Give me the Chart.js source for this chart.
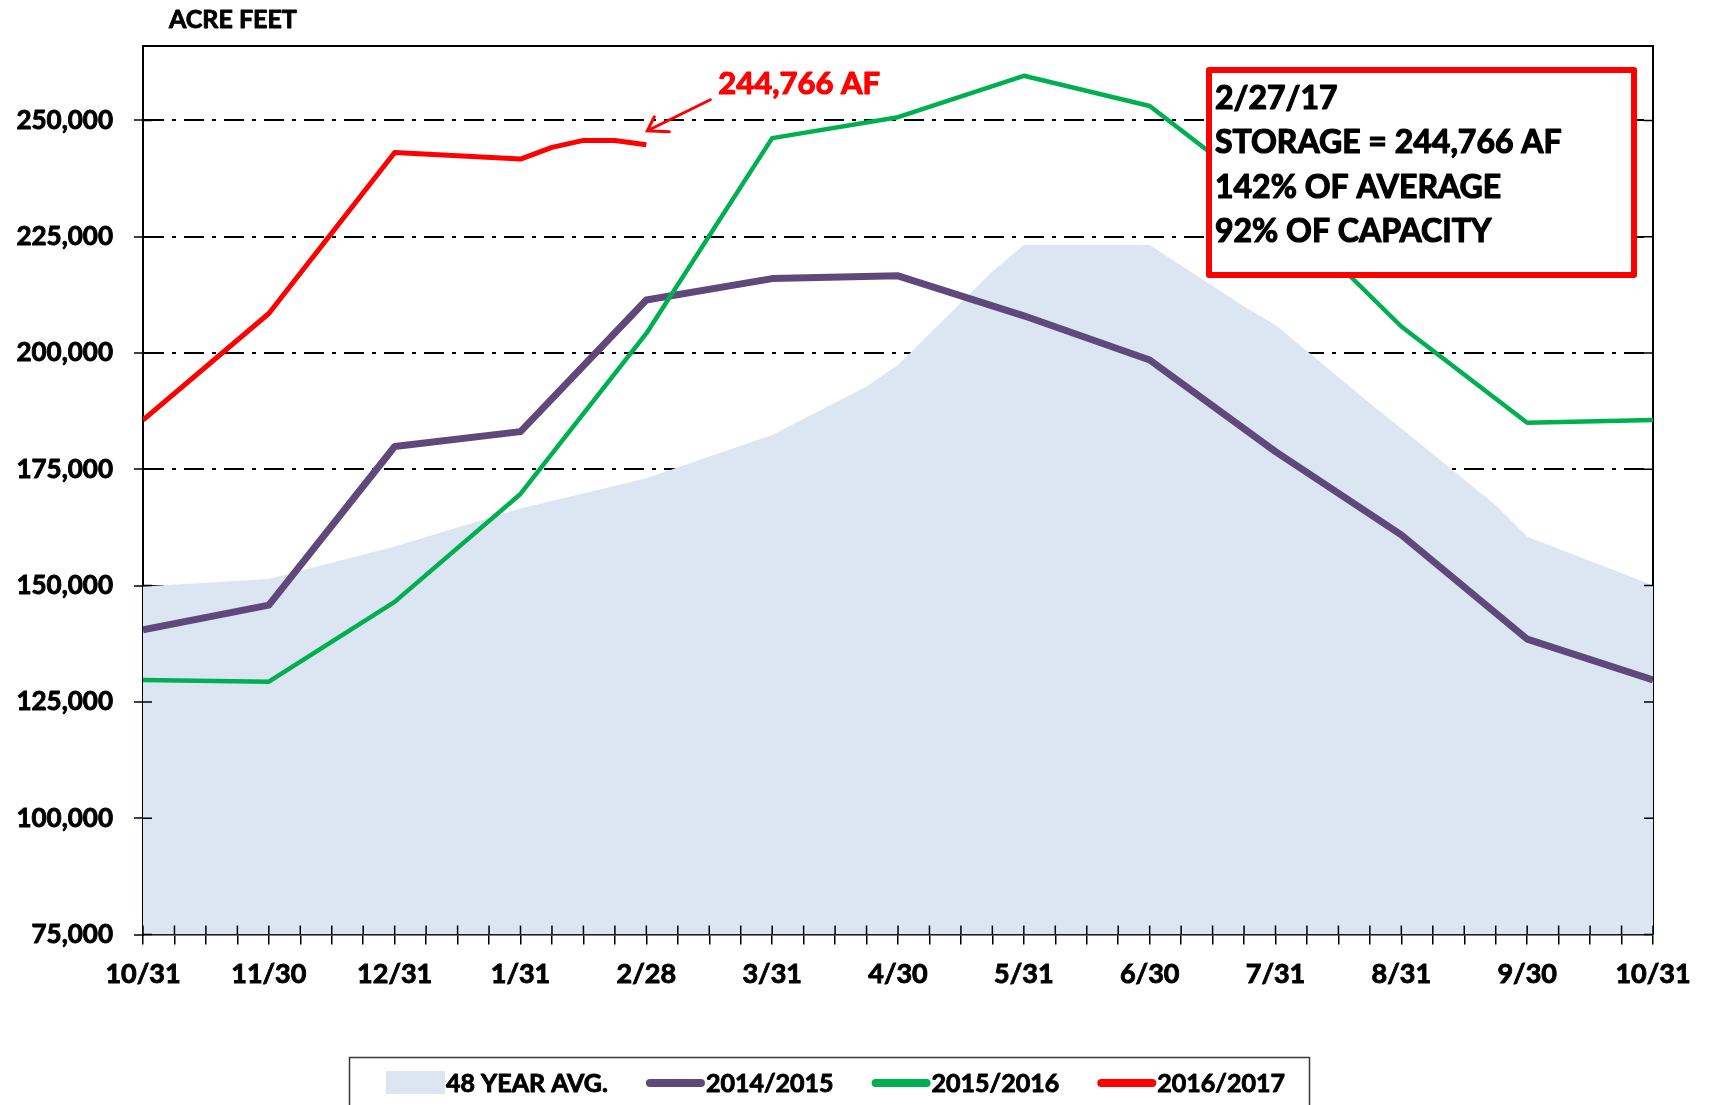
<!DOCTYPE html>
<html lang="en">
<head>
    <meta charset="UTF-8">
    <title>Reservoir Storage - Acre Feet</title>
    <style>
        body, html {
            margin: 0;
            padding: 0;
            background: #fff;
        }
        .chart-container {
            width: 1711px;
            height: 1105px;
            position: relative;
        }
    </style>
    <script src="https://cdn.jsdelivr.net/npm/chart.js"></script>
</head>
<body>
    <div class="chart-container">
        <canvas id="storageChart"></canvas>
    </div>
    <script>
        // month-end labels, x position = months since 10/31
        const monthLabels = ['10/31', '11/30', '12/31', '1/31', '2/28', '3/31', '4/30', '5/31', '6/30', '7/31', '8/31', '9/30', '10/31'];
        const yTicks = [75000, 100000, 125000, 150000, 175000, 200000, 225000, 250000];

        // 48 year average (points where the outline bends)
        const avgMonths = [0, 1, 2, 3, 4, 5, 5.75, 6, 6.75, 7, 8, 8.75, 9, 9.75, 10, 10.75, 11, 12];
        const avgValues = [149800, 151400, 158400, 166600, 173100, 182400, 192800, 197400, 217500, 223200, 223200, 210000, 206000, 189200, 183800, 167300, 160500, 150100];

        const values1415 = [140500, 145800, 179900, 183100, 211400, 216000, 216600, 208000, 198500, 178800, 160900, 138500, 129700];
        const values1516 = [129700, 129350, 146500, 169700, 204200, 246200, 250700, 259600, 253100, 232300, 205700, 185000, 185600];

        const months1617 = [0, 1, 2, 3, 3.25, 3.5, 3.75, 4];
        const values1617 = [185600, 208500, 243100, 241700, 244200, 245700, 245700, 244766];

        const callout = '244,766 AF';
        const boxLines = ['2/27/17', 'STORAGE = 244,766 AF', '142% OF AVERAGE', '92% OF CAPACITY'];

        const FONT = 'Lato';
        const toPoints = (xs, ys) => ys.map((y, i) => ({ x: xs[i], y: y }));
        const monthIdx = monthLabels.map((_, i) => i);

        // bold text with a thin outline, closer to the heavy original
        function heavyText(ctx, s, x, y, color, w) {
            ctx.fillStyle = color;
            ctx.strokeStyle = color;
            ctx.lineWidth = w;
            ctx.lineJoin = 'round';
            ctx.fillText(s, x, y);
            ctx.strokeText(s, x, y);
        }

        const extras = {
            id: 'extras',
            beforeDatasetsDraw(chart) {
                const { ctx, chartArea: a } = chart;
                ctx.save();
                ctx.strokeStyle = '#000';
                ctx.lineWidth = 2;
                ctx.beginPath();
                ctx.moveTo(a.left, a.top);
                ctx.lineTo(a.right, a.top);
                ctx.lineTo(a.right, a.bottom);
                ctx.stroke();
                ctx.restore();
            },
            afterDatasetsDraw(chart) {
                const { ctx, chartArea: a, scales } = chart;
                ctx.save();
                // inner halves of the tick marks
                ctx.strokeStyle = '#000';
                ctx.lineWidth = 1.5;
                ctx.beginPath();
                scales.x.ticks.forEach(t => {
                    const px = scales.x.getPixelForValue(t.value);
                    ctx.moveTo(px, a.bottom);
                    ctx.lineTo(px, a.bottom - 9);
                });
                scales.y.ticks.forEach(t => {
                    const py = scales.y.getPixelForValue(t.value);
                    ctx.moveTo(a.left, py);
                    ctx.lineTo(a.left + 9, py);
                    ctx.moveTo(a.right, py);
                    ctx.lineTo(a.right - 9, py);
                });
                ctx.stroke();

                // arrow + label pointing at latest 2016/2017 value
                const pts = chart.getDatasetMeta(3).data;
                const last = pts[pts.length - 1];
                const tipX = last.x + 1, tipY = last.y - 14;
                ctx.strokeStyle = '#FF0000';
                ctx.lineWidth = 3;
                ctx.lineCap = 'round';
                ctx.beginPath();
                ctx.moveTo(tipX + 63, tipY - 31);
                ctx.lineTo(tipX, tipY);
                ctx.moveTo(tipX + 7, tipY - 14);
                ctx.lineTo(tipX, tipY);
                ctx.lineTo(tipX + 22, tipY + 1);
                ctx.stroke();
                ctx.font = 'bold 31px ' + FONT;
                ctx.textBaseline = 'alphabetic';
                heavyText(ctx, callout, tipX + 71, tipY - 37, '#FF0000', 1.2);

                // summary box
                ctx.fillStyle = '#fff';
                ctx.fillRect(1206, 67, 431, 211);
                ctx.strokeStyle = '#FF0000';
                ctx.lineWidth = 6;
                ctx.lineCap = 'butt';
                ctx.strokeRect(1209, 70, 425, 205);
                ctx.font = 'bold 32px ' + FONT;
                boxLines.forEach((s, i) => heavyText(ctx, s, 1215, 108.5 + i * 44.5, '#000', 1.2));
                ctx.restore();
            },
            afterDraw(chart) {
                const { ctx } = chart;
                ctx.save();
                ctx.font = 'bold 25px ' + FONT;
                ctx.textBaseline = 'alphabetic';
                heavyText(ctx, 'ACRE FEET', 169, 28, '#000', 0.9);

                // legend
                ctx.strokeStyle = '#3a3a3a';
                ctx.lineWidth = 1.5;
                ctx.strokeRect(349.5, 1057.5, 960, 80);
                let x = 386;
                chart.data.datasets.slice().sort((p, q) => q.order - p.order).forEach(ds => {
                    if (ds.fill) {
                        ctx.fillStyle = ds.backgroundColor;
                        ctx.fillRect(x, 1071, 59, 23);
                    } else {
                        ctx.strokeStyle = ds.borderColor;
                        ctx.lineWidth = 8;
                        ctx.lineCap = 'round';
                        ctx.beginPath();
                        ctx.moveTo(x + 4, 1083);
                        ctx.lineTo(x + 55, 1083);
                        ctx.stroke();
                    }
                    ctx.font = 'bold 25px ' + FONT;
                    heavyText(ctx, ds.label, x + 60, 1092, '#000', 0.9);
                    x += 60 + ctx.measureText(ds.label).width + 38;
                });
                ctx.restore();
            }
        };

        function drawChart() {
            const ctx = document.getElementById('storageChart').getContext('2d');
            new Chart(ctx, {
                type: 'line',
                data: {
                    datasets: [{
                        label: '48 YEAR AVG.',
                        data: toPoints(avgMonths, avgValues),
                        fill: 'start',
                        backgroundColor: '#DCE6F2',
                        borderWidth: 0,
                        pointRadius: 0,
                        order: 4
                    }, {
                        label: '2014/2015',
                        data: toPoints(monthIdx, values1415),
                        borderColor: '#5F497A',
                        borderWidth: 7,
                        fill: false,
                        pointRadius: 0,
                        borderJoinStyle: 'round',
                        order: 3
                    }, {
                        label: '2015/2016',
                        data: toPoints(monthIdx, values1516),
                        borderColor: '#00B050',
                        borderWidth: 4.5,
                        fill: false,
                        pointRadius: 0,
                        borderJoinStyle: 'round',
                        order: 2
                    }, {
                        label: '2016/2017',
                        data: toPoints(months1617, values1617),
                        borderColor: '#FF0000',
                        borderWidth: 5,
                        fill: false,
                        pointRadius: 0,
                        borderJoinStyle: 'round',
                        order: 1
                    }]
                },
                options: {
                    responsive: true,
                    maintainAspectRatio: false,
                    animation: false,
                    layout: { padding: { top: 46, right: 58, left: 0, bottom: 0 } },
                    plugins: {
                        legend: { display: false },
                        tooltip: { enabled: false }
                    },
                    scales: {
                        x: {
                            type: 'linear',
                            min: 0,
                            max: 12,
                            grid: { drawOnChartArea: false, tickLength: 10, color: '#000', lineWidth: 1.5 },
                            border: { color: '#000', width: 1.5 },
                            ticks: {
                                stepSize: 0.25,
                                autoSkip: false,
                                maxRotation: 0,
                                minRotation: 0,
                                padding: 14,
                                color: '#000',
                                textStrokeColor: '#000',
                                textStrokeWidth: 0.9,
                                font: { family: FONT, size: 27, weight: 'bold' },
                                callback: v => Number.isInteger(v) ? monthLabels[v] : ''
                            },
                            afterFit: s => { s.height = 170.5; }
                        },
                        y: {
                            min: 75000,
                            max: 266000,
                            afterBuildTicks: s => { s.ticks = yTicks.map(v => ({ value: v })); },
                            grid: {
                                color: c => (c.tick && c.tick.value === yTicks[0]) ? 'rgba(0,0,0,0)' : '#000',
                                tickColor: '#000',
                                lineWidth: 2,
                                tickLength: 9,
                                tickWidth: 1.5
                            },
                            border: { color: '#000', width: 2, dash: [20, 8, 4, 8] },
                            ticks: {
                                padding: 21,
                                color: '#000',
                                textStrokeColor: '#000',
                                textStrokeWidth: 0.9,
                                font: { family: FONT, size: 26, weight: 'bold' },
                                callback: v => v.toLocaleString('en-US')
                            },
                            afterFit: s => { s.width = 143; }
                        }
                    }
                },
                plugins: [extras]
            });
        }

        document.fonts.load('bold 26px ' + FONT).then(drawChart, drawChart);
    </script>
</body>
</html>
